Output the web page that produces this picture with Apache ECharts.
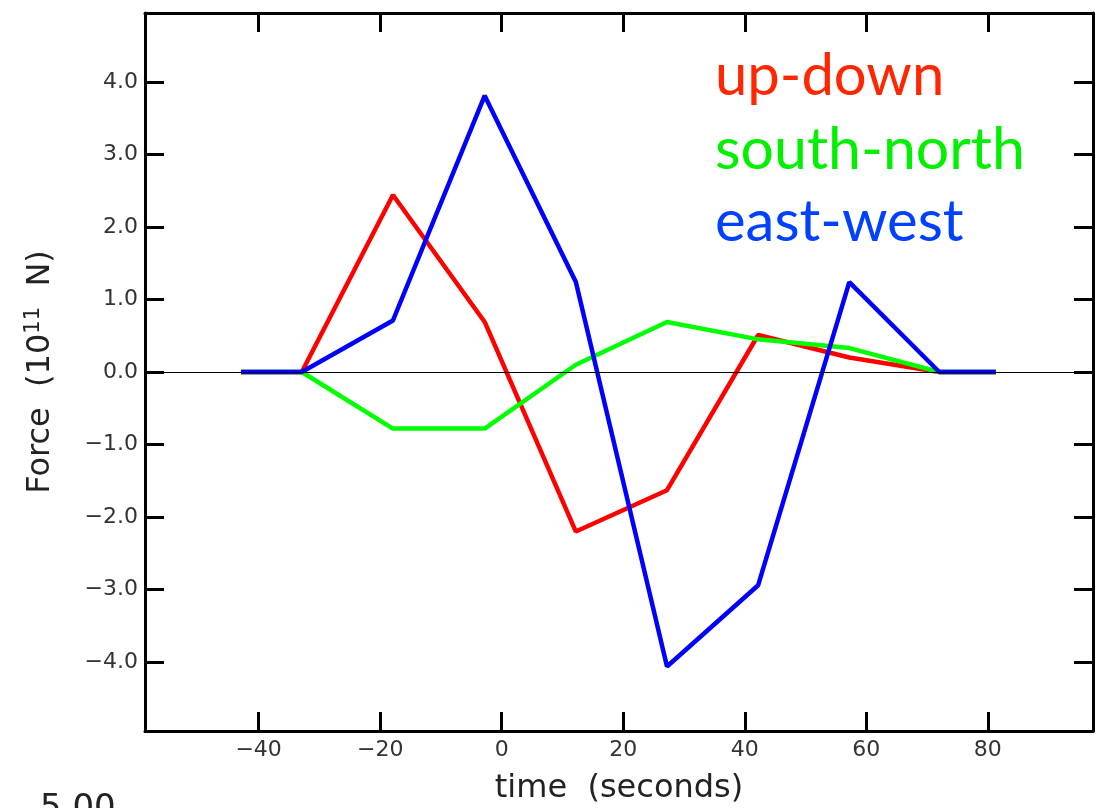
<!DOCTYPE html>
<html>
<head>
<meta charset="utf-8">
<script src="https://cdn.jsdelivr.net/npm/echarts@6/dist/echarts.min.js"></script>
<style>
	html, body { margin: 0; padding: 0; background: #fff; }
	#tuxing { width: 1108px; height: 808px; }
</style>
</head>
<body>
<div id="tuxing"></div>
<script>
// data
var times = [-42.9, -32.9, -17.9, -2.8, 12.2, 27.2, 42.2, 57.2, 72.0, 81.3];
var upDown = [0, 0, 2.44, 0.69, -2.20, -1.63, 0.51, 0.20, 0, 0];
var southNorth = [0, 0, -0.78, -0.78, 0.10, 0.69, 0.45, 0.33, 0, 0];
var eastWest = [0, 0, 0.71, 3.81, 1.24, -4.06, -2.94, 1.24, 0, 0];
var xTicks = [-40, -20, 0, 20, 40, 60, 80];
var yTicks = [-4, -3, -2, -1, 0, 1, 2, 3, 4];

function pairs(ys) {
	var out = [];
	for (var i = 0; i < times.length; i++) {
		out.push([times[i], ys[i]]);
	}
	return out;
}

var myChart = echarts.init(document.getElementById('tuxing'));

var tickStyle = {
	show: true,
	inside: true,
	length: 19,
	lineStyle: { color: '#000', width: 3 }
};
var lineAxis = { show: true, onZero: false, lineStyle: { color: '#000', width: 3 } };
var labelFont = 'DejaVu Sans';

var option = {
	animation: false,
	backgroundColor: '#fff',
	grid: { left: 145, right: 15, top: 13, bottom: 77, outerBoundsMode: 'none', containLabel: false },
	xAxis: [{
		type: 'value',
		min: -58.7,
		max: 97.3,
		position: 'bottom',
		axisLine: lineAxis,
		axisTick: Object.assign({ customValues: xTicks }, tickStyle),
		axisLabel: {
			customValues: xTicks,
			margin: 8,
			color: '#333',
			fontFamily: labelFont,
			fontSize: 22,
			formatter: function(v) { return String(v).replace('-', '\u2212'); }
		},
		splitLine: { show: false },
		name: 'time  (seconds)',
		nameLocation: 'middle',
		nameGap: 42,
		nameTextStyle: { color: '#222', fontFamily: labelFont, fontSize: 32 }
	}, {
		type: 'value',
		min: -58.7,
		max: 97.3,
		position: 'top',
		axisLine: lineAxis,
		axisTick: Object.assign({ customValues: xTicks }, tickStyle),
		axisLabel: { show: false },
		splitLine: { show: false }
	}],
	yAxis: [{
		type: 'value',
		min: -4.95,
		max: 4.95,
		position: 'left',
		axisLine: lineAxis,
		axisTick: Object.assign({ customValues: yTicks }, tickStyle),
		axisLabel: {
			customValues: yTicks,
			margin: 7,
			color: '#333',
			fontFamily: labelFont,
			fontSize: 22,
			formatter: function(v) { return v.toFixed(1).replace('-', '\u2212'); }
		},
		splitLine: { show: false },
		name: 'Force  (10{sup|11}  N)',
		nameLocation: 'middle',
		nameGap: 86,
		nameTextStyle: {
			color: '#222',
			fontFamily: labelFont,
			fontSize: 32,
			rich: {
				sup: { fontFamily: labelFont, fontSize: 21, color: '#222', verticalAlign: 'top', padding: [0, 0, 15, 0] }
			}
		}
	}, {
		type: 'value',
		min: -4.95,
		max: 4.95,
		position: 'right',
		axisLine: lineAxis,
		axisTick: Object.assign({ customValues: yTicks }, tickStyle),
		axisLabel: { show: false },
		splitLine: { show: false }
	}],
	series: [{
		// zero reference line
		type: 'line',
		data: [],
		z: 1,
		markLine: {
			silent: true,
			symbol: 'none',
			label: { show: false },
			lineStyle: { color: '#000', width: 1, type: 'solid' },
			data: [{ yAxis: 0 }]
		}
	}, {
		name: 'up-down',
		type: 'line',
		z: 2,
		data: pairs(upDown),
		showSymbol: false,
		lineStyle: { color: '#ff0000', width: 4.5 }
	}, {
		name: 'south-north',
		type: 'line',
		z: 3,
		data: pairs(southNorth),
		showSymbol: false,
		lineStyle: { color: '#00ff00', width: 4.5 }
	}, {
		name: 'east-west',
		type: 'line',
		z: 4,
		data: pairs(eastWest),
		showSymbol: false,
		lineStyle: { color: '#0000ff', width: 4.5 }
	}],
	graphic: [{
		type: 'text', left: 715, top: 47,
		style: { text: 'up-down', fill: '#ff2600', font: '58px Lato' }
	}, {
		type: 'text', left: 715, top: 120,
		style: { text: 'south-north', fill: '#00f000', font: '59px Lato' }
	}, {
		type: 'text', left: 715, top: 193,
		style: { text: 'east-west', fill: '#0040ff', font: '58px Lato' }
	}, {
		type: 'text', left: 40, top: 792,
		style: { text: '5.00', fill: '#222', font: '34px "DejaVu Sans"' }
	}]
};
myChart.setOption(option);
</script>
</body>
</html>
